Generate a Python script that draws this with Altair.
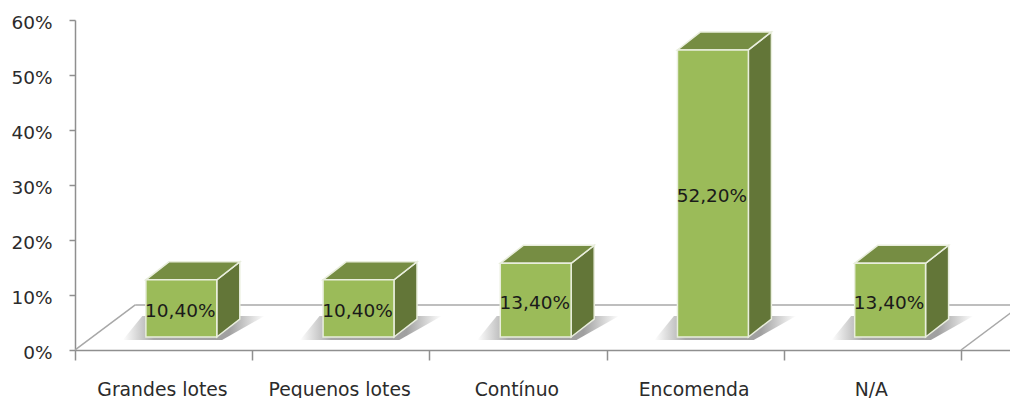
import altair as alt
import pandas as pd

# Chart content
categories = ["Grandes lotes", "Pequenos lotes", "Contínuo", "Encomenda", "N/A"]
shares = [10.4, 10.4, 13.4, 52.2, 13.4]
y_ticks = [0, 10, 20, 30, 40, 50, 60]
x_ticks = [0, 1, 2, 3, 4, 5]

# Pseudo-3D layout, in data units (x: one unit per category, y: percent)
PLOT_W, PLOT_H = 935, 330
UNIT = 177.2
X_MAX = PLOT_W / UNIT
BAR_LEFT, BAR_W = 0.40, 0.40
BASE = 2.36
BOX_DX, BOX_DY = 0.13, 3.27
FLOOR_DX, FLOOR_DY = 0.34, 8.2

FONT = "DejaVu Sans"
TEXT = "#2b2b2b"
AXIS_GREY = "#8f8f8f"
EDGE = "#e9eedd"

x_scale = alt.Scale(domain=[0, X_MAX], nice=False, zero=False)
y_scale = alt.Scale(domain=[0, 60], nice=False)

fronts, sides, tops, shadows, labels = [], [], [], [], []
for i, (name, v) in enumerate(zip(categories, shares)):
    x0, x1 = i + BAR_LEFT, i + BAR_LEFT + BAR_W
    top = BASE + v
    fronts.append(dict(x=x0, x2=x1, y=BASE, y2=top))
    sides += [
        dict(bar=name, x=x1, y=BASE, y2=top),
        dict(bar=name, x=x1 + BOX_DX, y=BASE + BOX_DY, y2=top + BOX_DY),
    ]
    tops += [
        dict(bar=name, y=top, x=x0, x2=x1),
        dict(bar=name, y=top + BOX_DY, x=x0 + BOX_DX, x2=x1 + BOX_DX),
    ]
    shadows += [
        dict(bar=name, y=1.8, x=x0 - 0.13, x2=x1 + 0.03),
        dict(bar=name, y=6.2, x=x0 - 0.02, x2=x1 + 0.27),
    ]
    labels.append(dict(x=(x0 + x1) / 2, y=BASE + v / 2, text=f"{v:.2f}%".replace(".", ",")))

floor_lines = pd.DataFrame([
    dict(edge="back", x=FLOOR_DX, y=FLOOR_DY),
    dict(edge="back", x=5 + FLOOR_DX, y=FLOOR_DY),
    dict(edge="left", x=0, y=0),
    dict(edge="left", x=FLOOR_DX, y=FLOOR_DY),
    dict(edge="right", x=5, y=0),
    dict(edge="right", x=5 + FLOOR_DX, y=FLOOR_DY),
])

names_js = "[" + ",".join(f"'{c}'" for c in categories) + ",'']"

x_axis = alt.Axis(
    values=x_ticks, title=None, grid=False,
    labelExpr=f"{names_js}[datum.value]",
    labelOffset=87, labelPadding=20, labelFont=FONT, labelFontSize=18.8,
    labelColor=TEXT, labelOverlap=False, labelFlush=False, labelBound=False,
    tickSize=10, tickColor=AXIS_GREY, tickWidth=1.5,
    domainColor=AXIS_GREY, domainWidth=1.5,
)
y_axis = alt.Axis(
    values=y_ticks, title=None, grid=False,
    labelExpr="datum.value + '%'",
    labelOffset=2.5, labelPadding=17, labelFont=FONT, labelFontSize=18.5, labelColor=TEXT,
    tickSize=6, tickColor=AXIS_GREY, tickWidth=1.5,
    domainColor=AXIS_GREY, domainWidth=1.5,
)

X = alt.X("x:Q", scale=x_scale, axis=x_axis)
Y = alt.Y("y:Q", scale=y_scale, axis=y_axis)

floor = alt.Chart(floor_lines).mark_line(color="#a8a8a8", strokeWidth=1.5, clip=True).encode(
    x=X, y=Y, detail="edge:N",
)

shadow_fill = alt.Gradient(
    gradient="linear", x1=0, x2=1, y1=0, y2=0,
    stops=[
        alt.GradientStop(offset=0, color="#ffffff"),
        alt.GradientStop(offset=0.22, color="#a8a8a8"),
        alt.GradientStop(offset=0.75, color="#a0a0a0"),
        alt.GradientStop(offset=1, color="#ffffff"),
    ],
)
shadow = alt.Chart(pd.DataFrame(shadows)).mark_area(orient="horizontal", color=shadow_fill).encode(
    y=Y, x=X, x2="x2:Q", detail="bar:N",
)

side = alt.Chart(pd.DataFrame(sides)).mark_area(
    color="#637638", stroke=EDGE, strokeWidth=1.5
).encode(x=X, y=Y, y2="y2:Q", detail="bar:N")

top_face = alt.Chart(pd.DataFrame(tops)).mark_area(
    orient="horizontal", color="#768d43", stroke=EDGE, strokeWidth=1.5
).encode(y=Y, x=X, x2="x2:Q", detail="bar:N")

front = alt.Chart(pd.DataFrame(fronts)).mark_rect(
    color="#9bbb59", stroke=EDGE, strokeWidth=1.5
).encode(x=X, x2="x2:Q", y=Y, y2="y2:Q")

value_text = alt.Chart(pd.DataFrame(labels)).mark_text(
    font=FONT, fontSize=18.5, color="#1a1a1a", baseline="middle", align="center", dx=-1, dy=2.5
).encode(x=X, y=Y, text="text:N")

chart = (
    alt.layer(floor, shadow, side, top_face, front, value_text)
    .properties(
        width=PLOT_W, height=PLOT_H,
        autosize=alt.AutoSizeParams(type="none"),
        padding={"left": 75, "top": 20, "right": 0, "bottom": 48},
        background="white",
    )
    .configure_view(stroke=None)
)

chart.save("out.html", embed_options={"renderer": "svg", "actions": False})
